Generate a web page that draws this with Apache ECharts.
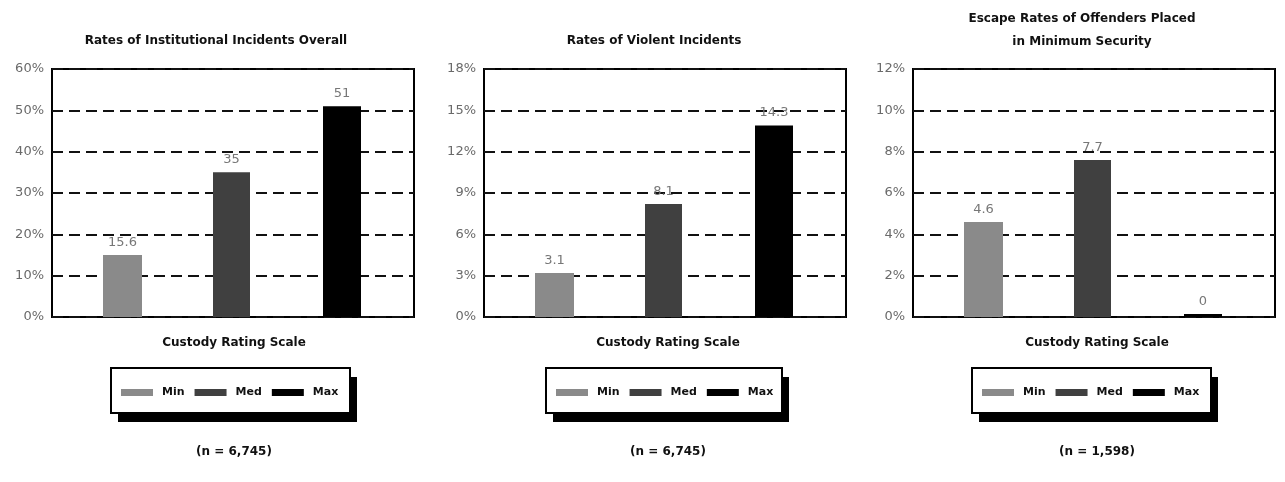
<!DOCTYPE html>
<html>
<head>
<meta charset="utf-8">
<script src="https://cdn.jsdelivr.net/npm/echarts@6/dist/echarts.min.js"></script>
<style>html,body{margin:0;padding:0;background:#fff;}#c{width:1285px;height:482px;}</style>
</head>
<body>
<div id="c"></div>
<script>
// ---- data ----
const categories = ['Min', 'Med', 'Max'];
const titles = ['Rates of Institutional Incidents Overall', 'Rates of Violent Incidents', 'Escape Rates of Offenders Placed\nin Minimum Security'];
const overallValues = [15.0, 35.0, 51.0];
const overallLabels = ['15.6', '35', '51'];
const violentValues = [3.2, 8.2, 13.9];
const violentLabels = ['3.1', '8.1', '14.3'];
const escapeValues = [4.6, 7.6, 0.15];
const escapeLabels = ['4.6', '7.7', '0'];
const yMax = [60, 18, 12];
const yStep = [10, 3, 2];
const xAxisTitle = 'Custody Rating Scale';
const sampleNotes = ['(n = 6,745)', '(n = 6,745)', '(n = 1,598)'];

const panelValues = [overallValues, violentValues, escapeValues];
const panelLabels = [overallLabels, violentLabels, escapeLabels];
const colors = ['#8a8a8a', '#404040', '#000000'];
const barWidths = [39, 37, 38];

const FONT = 'DejaVu Sans, Liberation Sans, sans-serif';
const boxLeft = [52, 484, 913];
const boxW = 362, boxTop = 69, boxH = 248;
const titleX = [216, 654, 1082];
const centerX = [234, 668, 1097];
const legBoxLeft = [111, 546, 972];
const legBoxW = [239, 236, 239];

const grid = [], xAxis = [], yAxis = [], series = [], legend = [], graphic = [];
for (let p = 0; p < 3; p++) {
  // outer box grid (axis labels, dashed lines)
  grid.push({left: boxLeft[p], top: boxTop, width: boxW, height: boxH, show: true, borderColor: '#000', borderWidth: 2, backgroundColor: '#fff', containLabel: false});
  // inner grid for bars
  grid.push({left: boxLeft[p] + 15, top: boxTop, width: 330, height: boxH, show: false, containLabel: false});
  const gb = p * 2, gi = p * 2 + 1;
  xAxis.push({type: 'category', gridIndex: gb, data: categories, show: false});
  xAxis.push({type: 'category', gridIndex: gi, data: categories, show: false});
  yAxis.push({type: 'value', gridIndex: gb, min: 0, max: yMax[p], interval: yStep[p],
    axisLine: {show: false}, axisTick: {show: false},
    axisLabel: {formatter: '{value}%', color: '#6a6a6a', fontFamily: FONT, fontSize: 13, margin: 8},
    splitLine: {show: true, lineStyle: {color: '#111', width: 2, type: [11, 6]}}});
  yAxis.push({type: 'value', gridIndex: gi, min: 0, max: yMax[p], interval: yStep[p], show: false, splitLine: {show: false}});
  for (let s = 0; s < 3; s++) {
    const data = categories.map((c, i) => i === s ? panelValues[p][s] : '-');
    const lbl = panelLabels[p][s];
    series.push({
      type: 'bar', name: categories[s], xAxisIndex: gi, yAxisIndex: gi,
      data: data, barWidth: barWidths[s], barGap: '-100%',
      itemStyle: {color: colors[s]},
      label: {show: true, position: 'top', distance: 6, color: '#777', fontFamily: FONT, fontSize: 13,
        formatter: () => lbl},
      animation: false
    });
  }
  legend.push({
    data: categories, left: legBoxLeft[p] + 10, top: 387, orient: 'horizontal',
    itemWidth: 32, itemHeight: 7, itemGap: 10, icon: 'rect', padding: 0, z: 20,
    textStyle: {color: '#111', fontFamily: FONT, fontSize: 11, fontWeight: 'bold', padding: [0, 0, 0, 4]},
    selectedMode: false
  });
  graphic.push({type: 'rect', z: 5, shape: {x: legBoxLeft[p] + 7, y: 377, width: legBoxW[p], height: 45}, style: {fill: '#000'}});
  graphic.push({type: 'rect', z: 6, shape: {x: legBoxLeft[p], y: 368, width: legBoxW[p], height: 45}, style: {fill: '#fff', stroke: '#000', lineWidth: 2}});
  graphic.push({type: 'text', x: titleX[p], y: p === 2 ? 30 : 41, style: {text: titles[p], textAlign: 'center', textVerticalAlign: 'middle', fill: '#111', font: 'bold 12px ' + FONT, lineHeight: 23}});
  graphic.push({type: 'text', x: centerX[p], y: 343, style: {text: xAxisTitle, textAlign: 'center', textVerticalAlign: 'middle', fill: '#111', font: 'bold 12px ' + FONT}});
  graphic.push({type: 'text', x: centerX[p], y: 452, style: {text: sampleNotes[p], textAlign: 'center', textVerticalAlign: 'middle', fill: '#111', font: 'bold 12px ' + FONT}});
}

const chart = echarts.init(document.getElementById('c'), null, {renderer: 'canvas'});
chart.setOption({backgroundColor: '#fff', animation: false, grid, xAxis, yAxis, series, legend, graphic});
</script>
</body>
</html>
